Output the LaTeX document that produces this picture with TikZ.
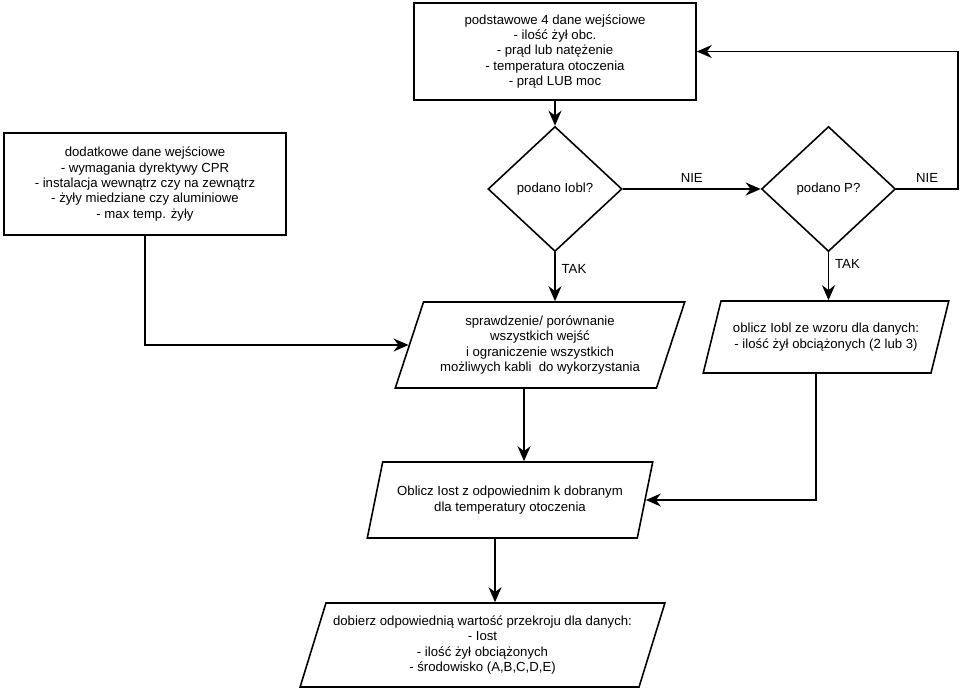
\documentclass[tikz,border=0pt]{standalone}
\usepackage{fontspec}
\setmainfont{Liberation Sans}
\usetikzlibrary{arrows.meta,shapes.geometric}

\begin{document}
\begin{tikzpicture}[>={Stealth[length=3mm,width=2.6mm]}, line width=0.9pt,
    every node/.style={font=\fontsize{7.5}{8.8}\selectfont, align=center},
    inbox/.style={draw, rectangle, minimum width=5.64cm, minimum height=1.94cm},
    ask/.style={draw, diamond, minimum width=2.68cm, minimum height=2.5cm, inner sep=1pt},
    calc/.style={draw, trapezium, trapezium left angle=70, trapezium right angle=110,
      trapezium stretches=true}]
      \useasboundingbox (0,0) rectangle (19.22,-13.8);

      \node[inbox] (base) at (11.1,-1.03) {podstawowe 4 dane wejściowe\\- ilość żył obc.\\- prąd lub natężenie\\- temperatura otoczenia\\- prąd LUB moc};
      \node[inbox, minimum height=2.04cm] (extra) at (2.9,-3.68) {dodatkowe dane wejściowe\\- wymagania dyrektywy CPR\\- instalacja wewnątrz czy na zewnątrz\\- żyły miedziane czy aluminiowe\\- max temp. żyły};

      \node[ask] (qi) at (11.1,-3.78) {podano Iobl?};
      \node[ask] (qp) at (16.57,-3.78) {podano P?};

      \node[calc, minimum width=5.8cm, minimum height=1.72cm] (check) at (10.8,-6.9) {sprawdzenie/ porównanie\\wszystkich wejść\\i ograniczenie wszystkich\\możliwych kabli\ \ do wykorzystania};
      \node[calc, trapezium left angle=67, trapezium right angle=113, minimum width=4.92cm, minimum height=1.44cm] (iobl) at (16.52,-6.74) {oblicz Iobl ze wzoru dla danych:\\- ilość żył obciążonych (2 lub 3)};
      \node[calc, minimum width=5.72cm, minimum height=1.52cm] (iost) at (10.2,-10.0) {Oblicz Iost z odpowiednim k dobranym\\dla temperatury otoczenia};
      \node[calc, minimum width=7.3cm, minimum height=1.68cm] (pick) at (9.65,-12.9) {dobierz odpowiednią wartość przekroju dla danych:\\- Iost\\- ilość żył obciążonych\\- środowisko (A,B,C,D,E)};

      \coordinate (loop) at (19.16,-1.03);

      \draw[->] (base) -- (qi);
      \draw[->] (qi) -- node[above] {NIE} (qp);
      \draw[->] (qp.east) -- node[above] {NIE} (qp.east -| loop) |- (base.east);
      \draw[->] (qi.south) -- node[right, pos=0.35] {TAK} (qi.south |- check.north);
      \draw[->] (qp.south) -- node[right, pos=0.25] {TAK} (qp.south |- iobl.north);
      \draw[->] (extra.south) |- (check.west);
      \draw[->] ([xshift=-0.32cm]check.south) -- ([xshift=-0.32cm]check.south |- iost.north);
      \draw[->] ([xshift=-0.2cm]iobl.south) |- (iost.east);
      \draw[->] ([xshift=-0.3cm]iost.south) -- ([xshift=-0.3cm]iost.south |- pick.north);
    \end{tikzpicture}
\end{document}
